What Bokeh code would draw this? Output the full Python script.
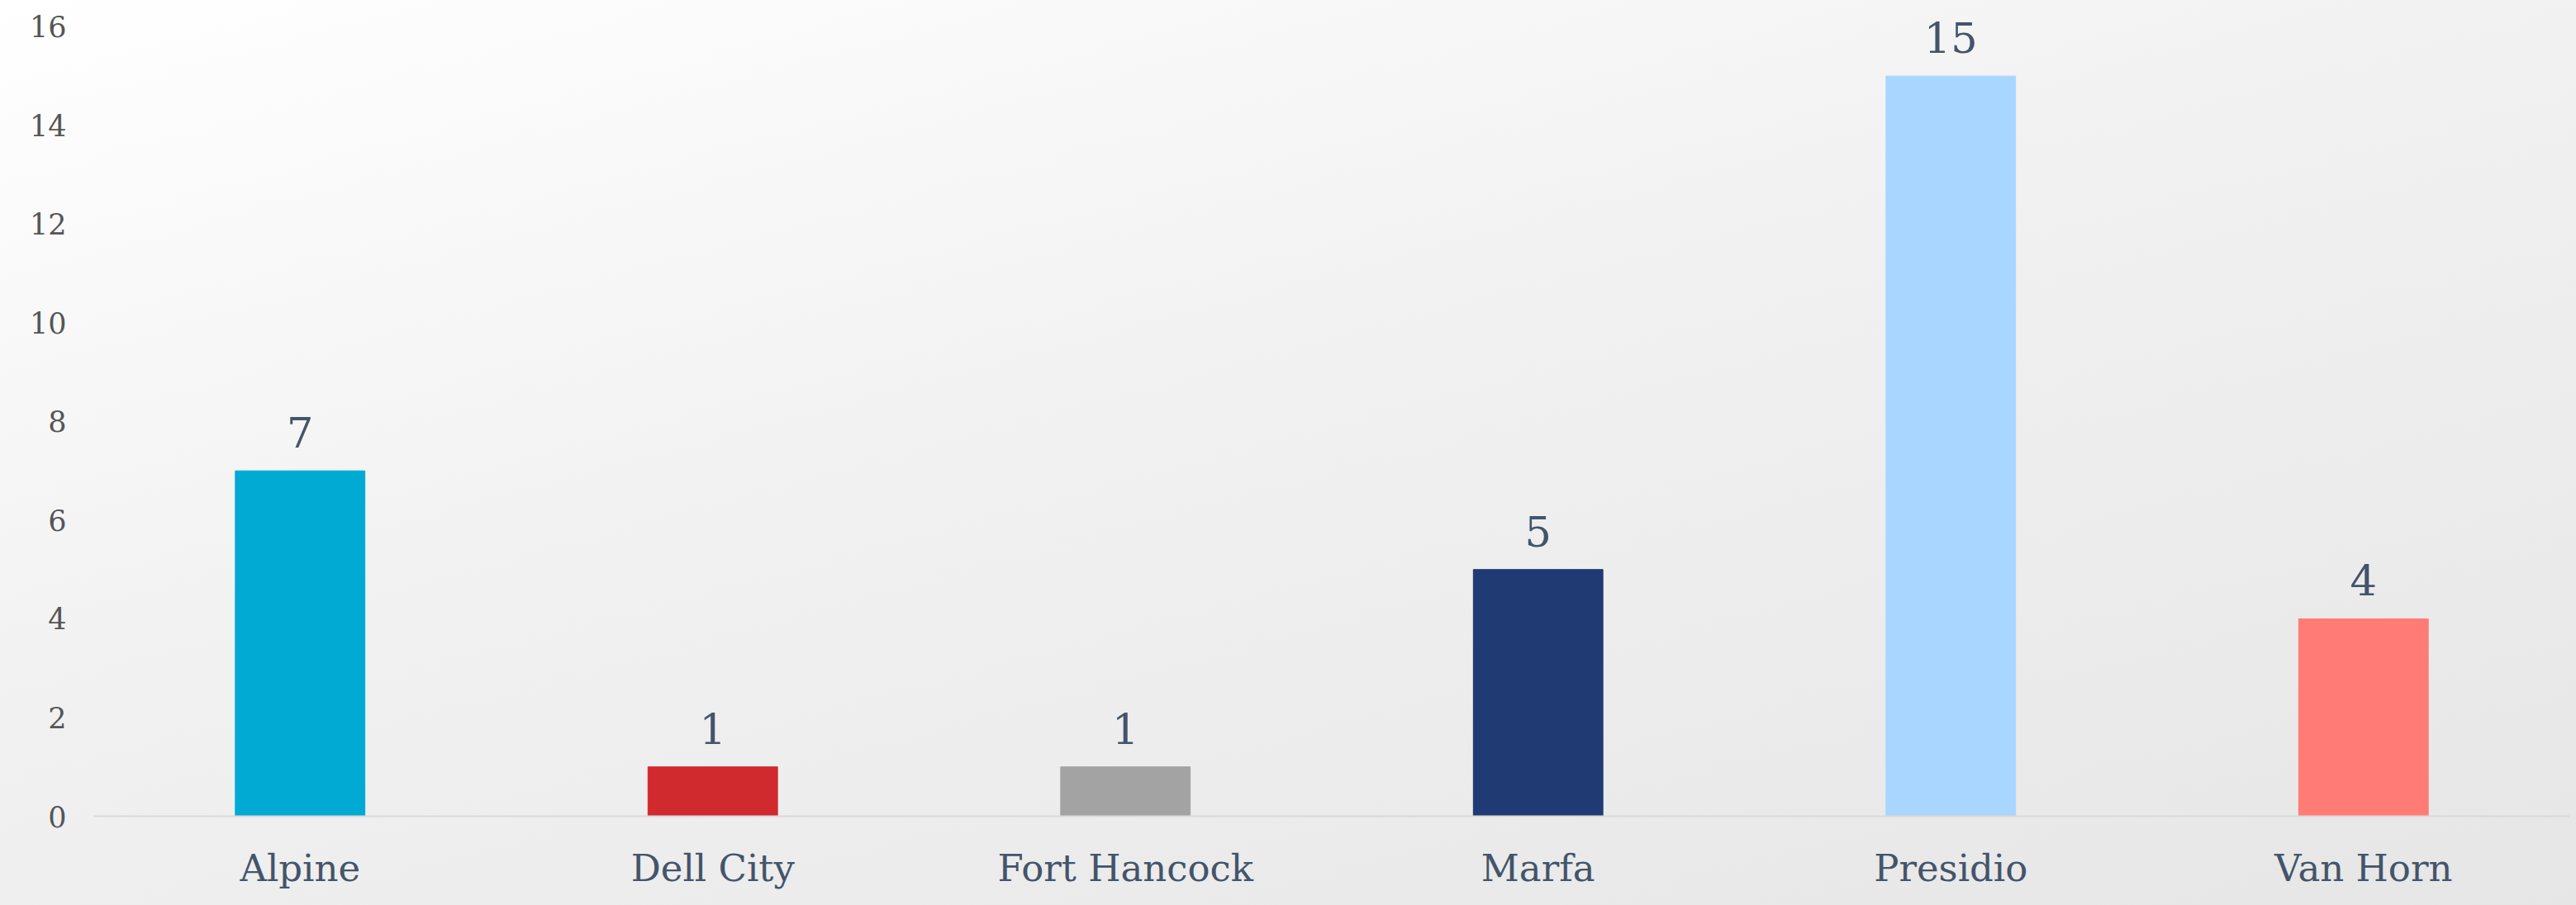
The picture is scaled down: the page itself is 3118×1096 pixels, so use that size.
from bokeh.plotting import figure
from bokeh.models import ColumnDataSource, FixedTicker, Range1d, FactorRange
from bokeh.core.properties import value
from bokeh.embed import file_html
from bokeh.resources import INLINE

# ---- data ----
towns = ["Alpine", "Dell City", "Fort Hancock", "Marfa", "Presidio", "Van Horn"]
counts = [7, 1, 1, 5, 15, 4]
bar_colors = ["#00AAD2", "#D0292E", "#A3A3A3", "#203B73", "#A8D6FF", "#FF7B75"]
y_ticks = [0, 2, 4, 6, 8, 10, 12, 14, 16]

FONT = "DejaVu Serif"
TEXT_COLOR = "#44546A"

src = ColumnDataSource(dict(town=towns, count=counts, color=bar_colors,
                            label=[str(c) for c in counts]))

p = figure(x_range=FactorRange(*towns, range_padding=0),
           y_range=Range1d(0, 16.5),
           width=3110, height=1080,
           output_backend="svg", toolbar_location=None,
           min_border_left=113, min_border_right=0,
           min_border_top=2, min_border_bottom=86)

p.background_fill_color = None
p.border_fill_color = None
p.outline_line_color = None

p.vbar(x="town", top="count", width=0.314, color="color", source=src)

p.text(x="town", y="count", text="label", source=src,
       text_font=value(FONT), text_font_size="51px", text_color=TEXT_COLOR,
       text_align="center", text_baseline="bottom", y_offset=-28)

p.xgrid.grid_line_color = None
p.ygrid.grid_line_color = None

xa = p.xaxis[0]
xa.axis_line_color = "#D9D9D9"
xa.axis_line_width = 2
xa.major_tick_line_color = None
xa.minor_tick_line_color = None
xa.major_label_text_font = FONT
xa.major_label_text_font_size = "45px"
xa.major_label_text_color = TEXT_COLOR
xa.major_label_standoff = 30

ya = p.yaxis[0]
ya.ticker = FixedTicker(ticks=y_ticks)
ya.axis_line_color = None
ya.major_tick_line_color = None
ya.minor_tick_line_color = None
ya.major_label_text_font = FONT
ya.major_label_text_font_size = "35px"
ya.major_label_text_color = "#555555"
ya.major_label_standoff = 27

html = file_html(p, INLINE)
style = ("<style>html,body{background:linear-gradient(165deg,#ffffff 0%,#f1f1f1 45%,#e6e6e6 100%);"
         "min-height:100%;}</style>")
html = html.replace("</head>", style + "</head>", 1)
open("out.html", "w").write(html)
